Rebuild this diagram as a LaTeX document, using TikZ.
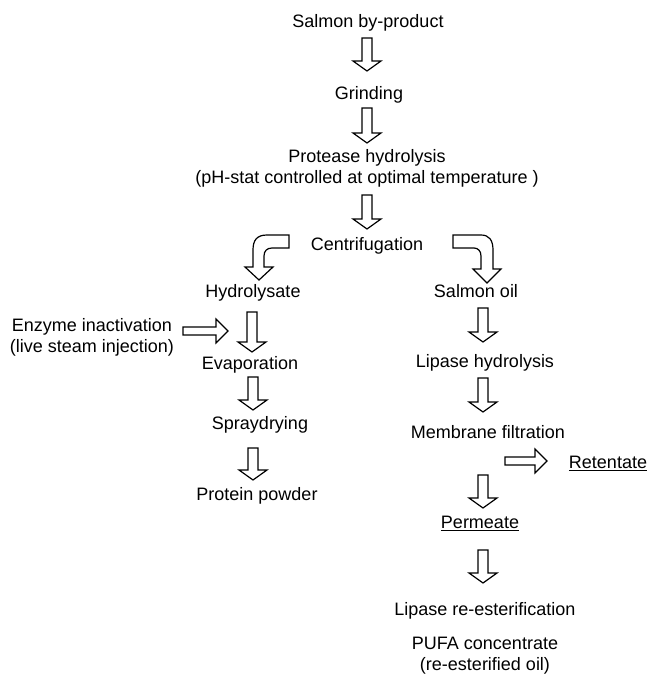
\documentclass[tikz,border=0pt]{standalone}
\usepackage{fontspec}
\setmainfont{Liberation Sans}
\usetikzlibrary{calc}

% hollow block arrows, from a start point to the tip
\newcommand{\downblock}[2]{%
  \draw[blockarrow] ($(#1)+(-5,0)$) -- ($(#2)+(-5,-10)$) -- ($(#2)+(-14,-10)$) -- (#2)
    -- ($(#2)+(14,-10)$) -- ($(#2)+(5,-10)$) -- ($(#1)+(5,0)$) -- cycle;}
\newcommand{\rightblock}[2]{%
  \draw[blockarrow] ($(#1)+(0,-4)$) -- ($(#2)+(-12,-4)$) -- ($(#2)+(-12,-12)$) -- (#2)
    -- ($(#2)+(-12,12)$) -- ($(#2)+(-12,4)$) -- ($(#1)+(0,4)$) -- cycle;}

\begin{document}
\begin{tikzpicture}[
    x=0.75pt, y=-0.75pt,
    stage/.style={anchor=base, inner sep=0pt, align=center,
                  font=\fontsize{13.5}{15.75}\selectfont},
    blockarrow/.style={draw, fill=white, line width=0.9pt, line join=miter},
]
    \useasboundingbox (0,0) rectangle (651,674);

    \node[stage] (byprod) at (368,28) {Salmon by-product};
    \node[stage] (grind) at (369,99) {Grinding};
    \node[stage] (protease) at (367,183) {Protease hydrolysis\\(pH-stat controlled at optimal temperature )};
    \node[stage] (centri) at (367,250) {Centrifugation};
    \node[stage] (hydro) at (253,297) {Hydrolysate};
    \node[stage] (enzyme) at (92,352) {Enzyme inactivation\\(live steam injection)};
    \node[stage] (evap) at (250,369) {Evaporation};
    \node[stage] (spray) at (260,429) {Spraydrying};
    \node[stage] (powder) at (257,500) {Protein powder};
    \node[stage] (oil) at (476,297) {Salmon oil};
    \node[stage] (lipase) at (485,367) {Lipase hydrolysis};
    \node[stage] (membrane) at (488,438) {Membrane filtration};
    \node[stage] (retentate) at (608,468) {\underline{Retentate}};
    \node[stage] (permeate) at (480,528) {\underline{Permeate}};
    \node[stage] (reester) at (485,615) {Lipase re-esterification};
    \node[stage] (pufa) at (485,670) {PUFA concentrate\\(re-esterified oil)};

    % arrow ends
    \coordinate (byprod-out) at (367,38);   \coordinate (grind-in) at (367,71);
    \coordinate (grind-out) at (367,108);   \coordinate (protease-in) at (367,143);
    \coordinate (protease-out) at (367,195); \coordinate (centri-in) at (367,229);
    \coordinate (hydro-out) at (252,312);   \coordinate (evap-in) at (252,352);
    \coordinate (evap-out) at (253,377);    \coordinate (spray-in) at (253,410);
    \coordinate (spray-out) at (253,448);   \coordinate (powder-in) at (253,480);
    \coordinate (oil-out) at (483,308);     \coordinate (lipase-in) at (483,342);
    \coordinate (lipase-out) at (483,378);  \coordinate (membrane-in) at (483,412);
    \coordinate (membrane-out) at (483,475); \coordinate (permeate-in) at (483,508);
    \coordinate (permeate-out) at (483,550); \coordinate (reester-in) at (483,583);
    \coordinate (enzyme-out) at (183,331);  \coordinate (hydro-in) at (228,331);
    \coordinate (membrane-side) at (505,461); \coordinate (retentate-in) at (547,461);

    \downblock{byprod-out}{grind-in}
    \downblock{grind-out}{protease-in}
    \downblock{protease-out}{centri-in}
    \downblock{hydro-out}{evap-in}
    \downblock{evap-out}{spray-in}
    \downblock{spray-out}{powder-in}
    \downblock{oil-out}{lipase-in}
    \downblock{lipase-out}{membrane-in}
    \downblock{membrane-out}{permeate-in}
    \downblock{permeate-out}{reester-in}
    \rightblock{enzyme-out}{hydro-in}
    \rightblock{membrane-side}{retentate-in}

    % bent arrows out of the centrifuge
    \draw[blockarrow] (289,235) -- (267,235) .. controls (257,235) and (253,240) .. (253,250)
        -- (253,267) -- (245,267) -- (259,280) -- (273,267) -- (264,267) -- (264,256)
        .. controls (264,251) and (267,248) .. (272,248) -- (289,248) -- cycle;
    \draw[blockarrow] (453,235) -- (481,235) .. controls (489,235) and (493,240) .. (493,250)
        -- (493,269) -- (501,269) -- (487,283) -- (473,269) -- (481,269) -- (481,256)
        .. controls (481,251) and (478,248) .. (474,248) -- (453,248) -- cycle;
\end{tikzpicture}
\end{document}
